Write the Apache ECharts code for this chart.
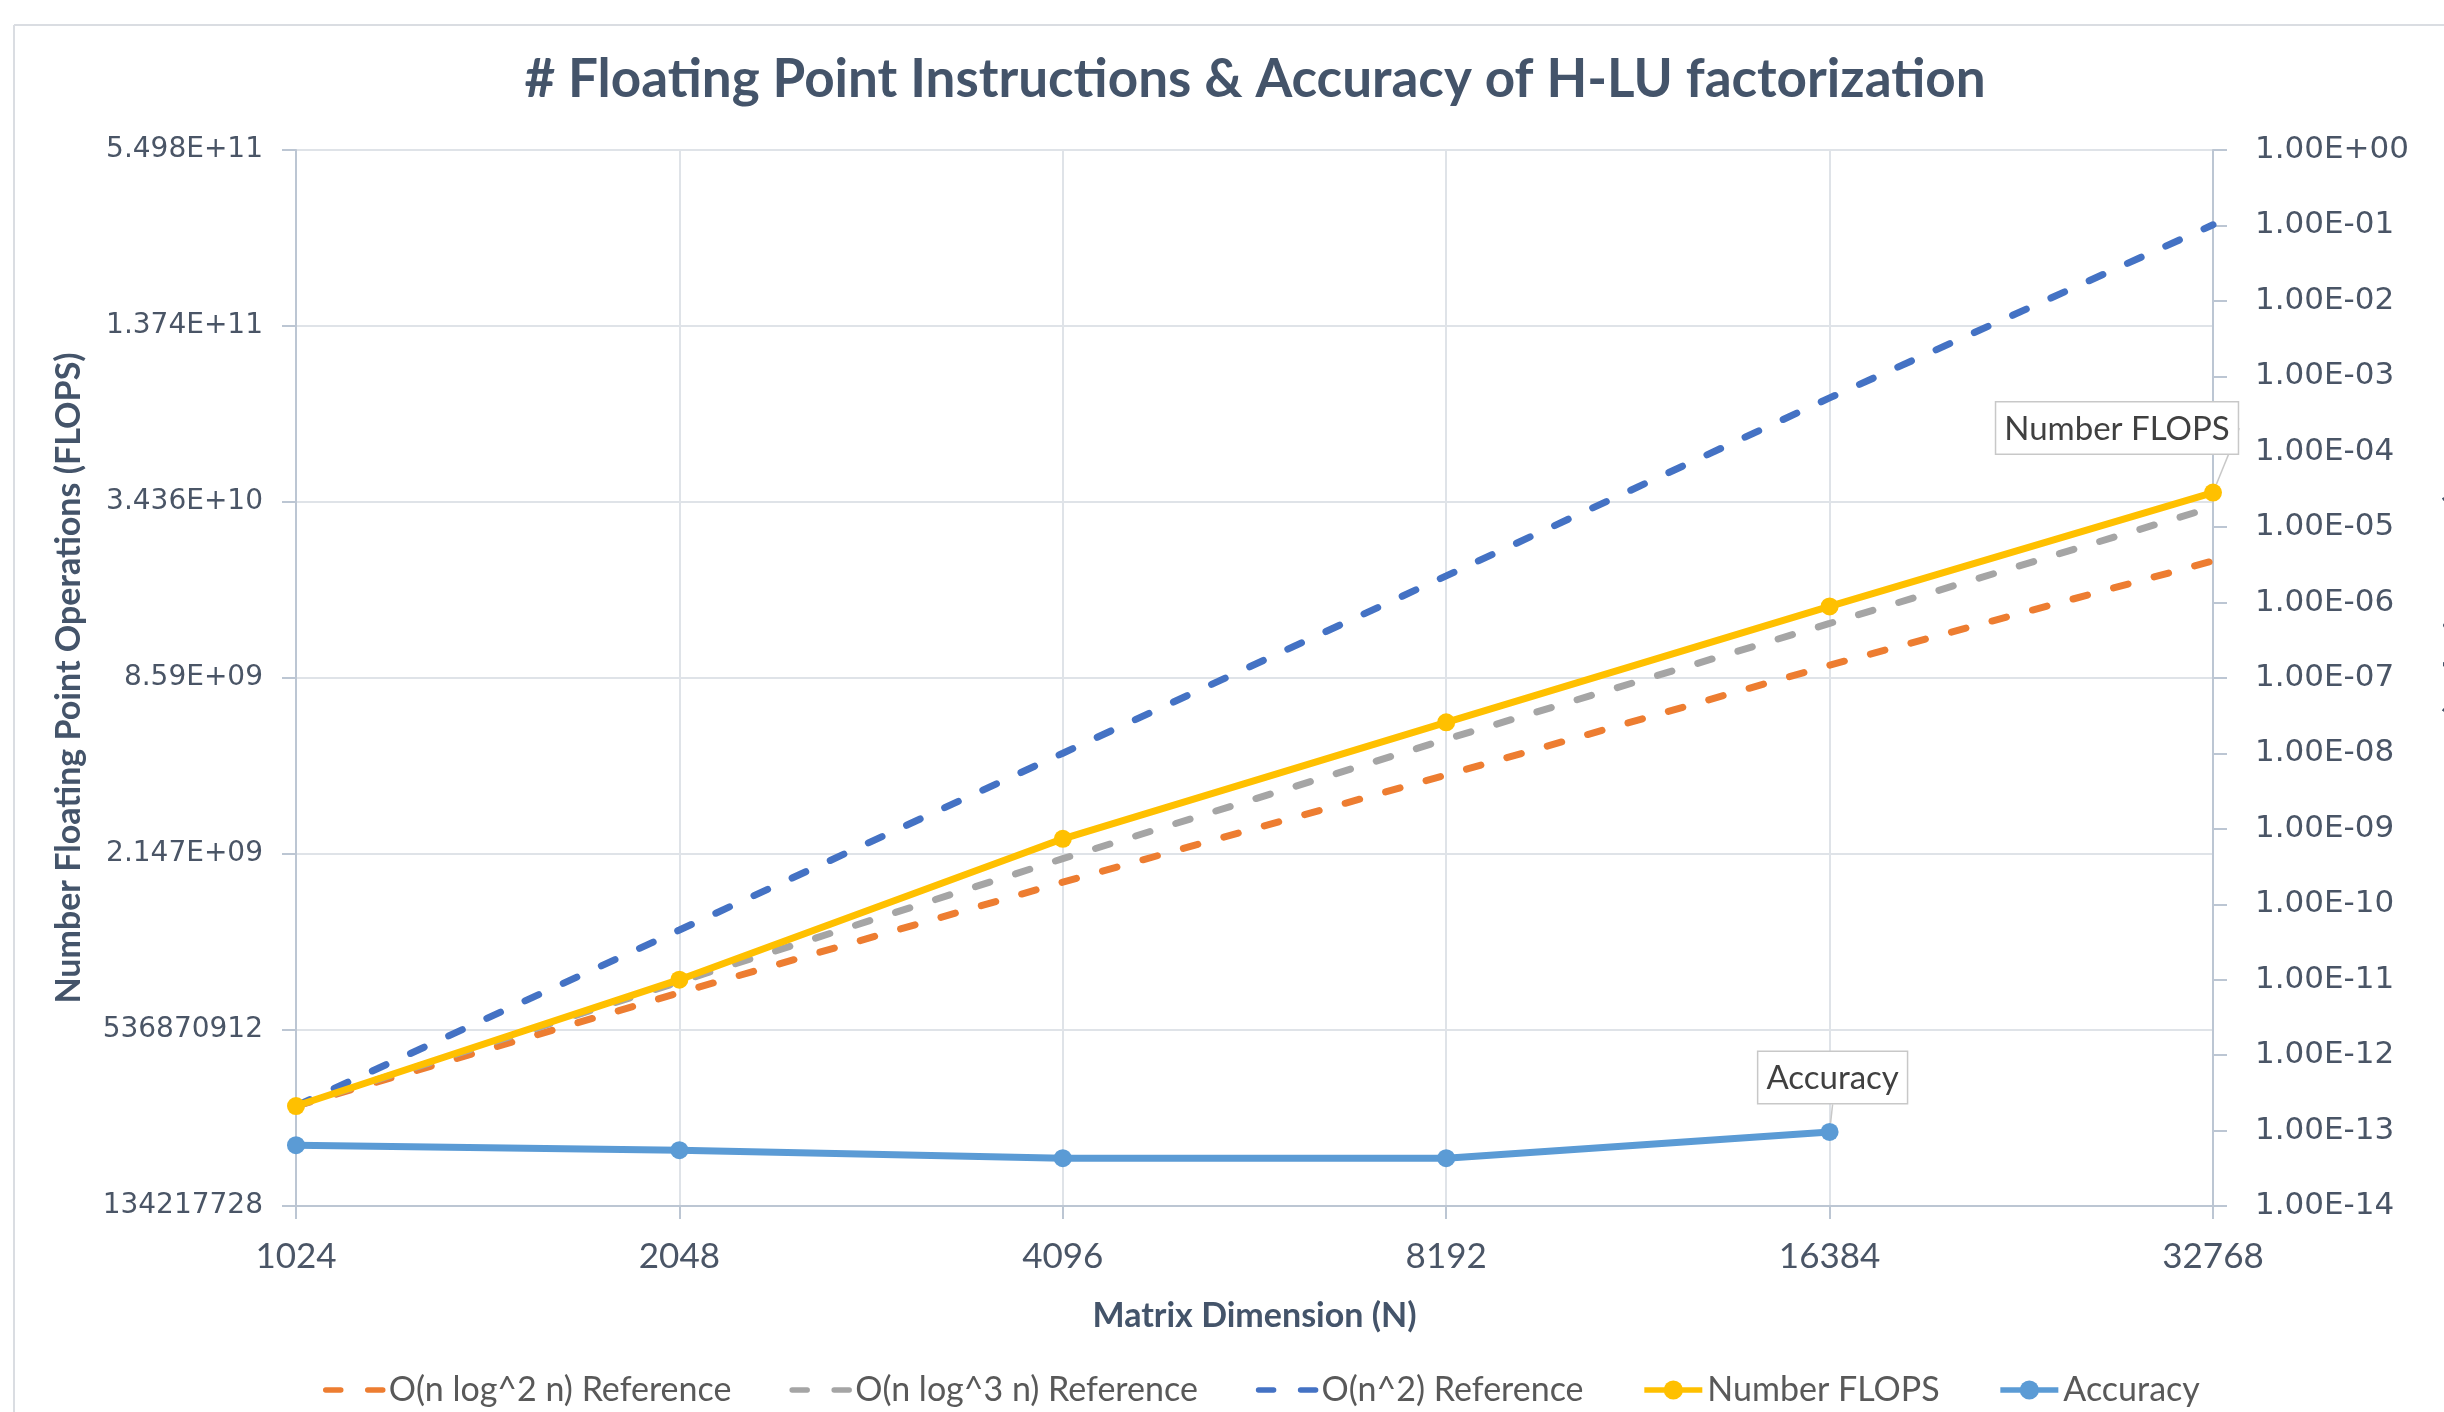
<!DOCTYPE html>
<html>
<head>
<meta charset="utf-8">
<title>H-LU factorization</title>
<script src="https://cdn.jsdelivr.net/npm/echarts@6/dist/echarts.min.js"></script>
<style>
  html, body { margin: 0; padding: 0; background: #fff; }
  #main { width: 2444px; height: 1412px; }
</style>
</head>
<body>
<div id="main"></div>
<script>
// matrix dimension N (x axis, log2)
var dims = [1024, 2048, 4096, 8192, 16384, 32768];

var refNlog2 = [2.95e8, 7.2e8, 1.72e9, 4.0e9, 9.5e9, 2.16e10];
var refNlog3 = [2.95e8, 7.85e8, 2.07e9, 5.3e9, 1.32e10, 3.3e10];
var refN2 = [2.95e8, 1.18e9, 4.75e9, 1.92e10, 7.8e10, 3.05e11];
var flops = [2.95e8, 7.98e8, 2.42e9, 6.06e9, 1.51e10, 3.70e10];
var accuracy = [6.4e-14, 5.5e-14, 4.3e-14, 4.3e-14, 9.6e-14];

// tick values / labels
var leftTickValues = [134217728, 536870912, 2147483648, 8589934592, 34359738368, 137438953472, 549755813888];
var leftTickLabels = ['134217728', '536870912', '2.147E+09', '8.59E+09', '3.436E+10', '1.374E+11', '5.498E+11'];
var rightTickValues = [1e-14, 1e-13, 1e-12, 1e-11, 1e-10, 1e-9, 1e-8, 1e-7, 1e-6, 1e-5, 1e-4, 1e-3, 1e-2, 1e-1, 1];
var rightTickLabels = ['1.00E-14', '1.00E-13', '1.00E-12', '1.00E-11', '1.00E-10', '1.00E-09', '1.00E-08',
  '1.00E-07', '1.00E-06', '1.00E-05', '1.00E-04', '1.00E-03', '1.00E-02', '1.00E-01', '1.00E+00'];

var chart = echarts.init(document.getElementById('main'));

function pairs(ys) {
  return ys.map(function (y, i) { return [dims[i], y]; });
}

var axisGray = '#bcc6d3';
var gridGray = '#dfe3e8';
var nameFont = { fontFamily: 'Lato', fontWeight: 'bold', fontSize: 34, color: '#44546a' };
var boxLabel = {
  show: true,
  fontFamily: 'Lato',
  fontSize: 33,
  color: '#404040',
  backgroundColor: '#fff',
  borderColor: '#c8c8c8',
  borderWidth: 1.5,
  padding: [10, 8, 8, 8]
};

function dashed(name, color, ys) {
  return {
    name: name,
    type: 'line',
    data: pairs(ys),
    symbol: 'none',
    lineStyle: { color: color, width: 7, type: [15, 27], cap: 'round' },
    itemStyle: { color: color },
    z: 2
  };
}

var flopsData = pairs(flops);
flopsData[5] = {
  value: flopsData[5],
  label: Object.assign({}, boxLabel, { formatter: 'Number FLOPS' }),
  labelLine: { show: true, lineStyle: { color: '#c8c8c8', width: 1.5 } }
};
var accData = pairs(accuracy);
accData[4] = {
  value: accData[4],
  label: Object.assign({}, boxLabel, { formatter: 'Accuracy' }),
  labelLine: { show: true, lineStyle: { color: '#c8c8c8', width: 1.5 } }
};

var legendNames = ['O(n log^2 n) Reference', 'O(n log^3 n) Reference', 'O(n^2) Reference', 'Number FLOPS', 'Accuracy'];

var option = {
  animation: false,
  backgroundColor: '#fff',
  textStyle: { fontFamily: 'Lato' },
  graphic: [
    { type: 'line', shape: { x1: 14, y1: 25, x2: 14, y2: 1412 }, style: { stroke: '#dadde2', lineWidth: 2 } },
    { type: 'line', shape: { x1: 14, y1: 25, x2: 2444, y2: 25 }, style: { stroke: '#dadde2', lineWidth: 2 } }
  ],
  title: {
    text: '# Floating Point Instructions & Accuracy of H-LU factorization',
    left: 1255,
    textAlign: 'center',
    top: 53,
    padding: 0,
    textStyle: { fontFamily: 'Lato', fontWeight: 'bold', fontSize: 53, color: '#44546a' }
  },
  grid: { left: 296, right: 231, top: 150, bottom: 206, containLabel: false, outerBoundsMode: 'none' },
  legend: {
    left: 323,
    top: 1373,
    padding: 0,
    itemWidth: 58,
    itemHeight: 24,
    itemGap: 58,
    lineStyle: { width: 5.5 },
    textStyle: { fontFamily: 'Lato', fontSize: 34, color: '#595959' },
    data: legendNames.map(function (n, i) {
      return i < 3 ? { name: n, itemStyle: { opacity: 0 } } : { name: n };
    })
  },
  xAxis: {
    type: 'log',
    logBase: 2,
    min: 1024,
    max: 32768,
    name: 'Matrix Dimension (N)',
    nameLocation: 'middle',
    nameGap: 93,
    nameTextStyle: nameFont,
    axisLine: { lineStyle: { color: axisGray, width: 2 } },
    axisTick: { show: true, length: 13, lineStyle: { color: axisGray, width: 2 } },
    axisLabel: {
      margin: 33,
      fontFamily: 'Lato',
      fontSize: 35,
      color: '#4a5566',
      formatter: function (v) { return String(Math.round(v)); }
    },
    splitLine: { show: true, lineStyle: { color: gridGray, width: 2 } },
    minorTick: { show: false },
    minorSplitLine: { show: false }
  },
  yAxis: [
    {
      type: 'log',
      logBase: 2,
      min: leftTickValues[0],
      max: leftTickValues[leftTickValues.length - 1],
      name: 'Number Floating Point Operations (FLOPS)',
      nameLocation: 'middle',
      nameGap: 210,
      nameRotate: 90,
      nameTextStyle: nameFont,
      axisLine: { show: true, lineStyle: { color: axisGray, width: 2 } },
      axisTick: { show: true, length: 14, customValues: leftTickValues, lineStyle: { color: axisGray, width: 2 } },
      axisLabel: {
        margin: 33,
        fontFamily: 'DejaVu Sans',
        fontSize: 28,
        color: '#4a5566',
        customValues: leftTickValues,
        formatter: function (v) {
          var i = Math.round((Math.log2(v) - 27) / 2);
          return leftTickLabels[i];
        }
      },
      splitLine: { show: true, lineStyle: { color: gridGray, width: 2 } }
    },
    {
      type: 'log',
      logBase: 10,
      min: 1e-14,
      max: 1,
      position: 'right',
      name: 'Accuracy (Relative Error)',
      nameLocation: 'middle',
      nameGap: 228,
      nameRotate: 90,
      nameTextStyle: nameFont,
      axisLine: { show: true, lineStyle: { color: axisGray, width: 2 } },
      axisTick: { show: true, length: 14, customValues: rightTickValues, lineStyle: { color: axisGray, width: 2 } },
      axisLabel: {
        margin: 42,
        fontFamily: 'DejaVu Sans',
        fontSize: 31,
        color: '#4a5566',
        customValues: rightTickValues,
        formatter: function (v) {
          var i = Math.round(Math.log10(v)) + 14;
          return rightTickLabels[i];
        }
      },
      splitLine: { show: false }
    }
  ],
  series: [
    dashed('O(n log^2 n) Reference', '#ed7d31', refNlog2),
    dashed('O(n log^3 n) Reference', '#a5a5a5', refNlog3),
    dashed('O(n^2) Reference', '#4472c4', refN2),
    {
      name: 'Number FLOPS',
      type: 'line',
      data: flopsData,
      symbol: 'circle',
      symbolSize: 18,
      lineStyle: { color: '#ffc000', width: 7 },
      itemStyle: { color: '#ffc000' },
      labelLayout: { dx: -96, dy: -25 },
      z: 3
    },
    {
      name: 'Accuracy',
      type: 'line',
      yAxisIndex: 1,
      data: accData,
      symbol: 'circle',
      symbolSize: 18,
      lineStyle: { color: '#5b9bd5', width: 7 },
      itemStyle: { color: '#5b9bd5' },
      labelLayout: { dx: 3, dy: -15 },
      z: 3
    }
  ]
};

chart.setOption(option);
</script>
</body>
</html>
